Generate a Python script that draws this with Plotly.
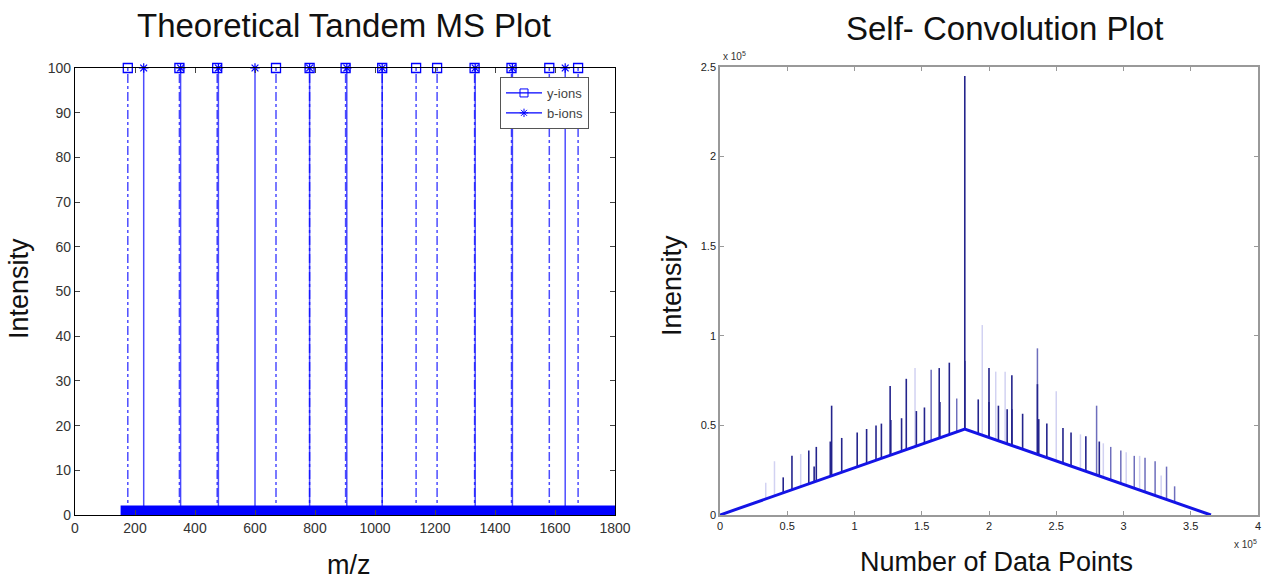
import plotly.graph_objects as go
import numpy as np

# ---------------- Left chart data ----------------
y_ions_mz = [176, 348, 474, 670, 782, 902, 1024, 1137, 1207, 1332, 1455, 1581, 1677]
b_ions_mz = [229, 352, 478, 600, 782, 906, 1024, 1334, 1458, 1634]
ion_intensity = 100
baseline_mz = [152, 1810]
baseline_int = [1, 1]
left_xticks = [0, 200, 400, 600, 800, 1000, 1200, 1400, 1600, 1800]
left_yticks = [0, 10, 20, 30, 40, 50, 60, 70, 80, 90, 100]

# ---------------- Right chart data (x in 1e5 points, y in 1e5) ----------------
tri_x = [0, 1.82, 3.65]
tri_y = [0, 0.48, 0]
dark_x = [0.47, 0.535, 0.66, 0.716, 0.70, 0.83, 0.82, 0.905, 1.02, 1.09, 1.16, 1.20, 1.265, 1.27,
          1.35, 1.385, 1.46, 1.52, 1.63, 1.635, 1.705, 1.82, 1.82, 1.92, 2.0, 2.0, 2.07, 2.135,
          2.17, 2.17, 2.25, 2.36, 2.37, 2.43, 2.55, 2.61, 2.72, 2.82]
dark_y = [0.21, 0.33, 0.36, 0.38, 0.27, 0.61, 0.41, 0.43, 0.46, 0.48, 0.50, 0.51, 0.72, 0.53,
          0.54, 0.76, 0.58, 0.60, 0.82, 0.63, 0.85, 0.86, 2.45, 0.645, 0.82, 0.63, 0.61, 0.59,
          0.78, 0.59, 0.565, 0.73, 0.535, 0.51, 0.485, 0.46, 0.44, 0.41]
medium_x = [1.57, 1.76, 2.36, 2.80, 2.905, 2.98, 3.08, 3.16, 3.235, 3.32, 3.38]
medium_y = [0.81, 0.65, 0.93, 0.61, 0.38, 0.36, 0.33, 0.32, 0.30, 0.27, 0.16]
light_x = [0.34, 0.405, 0.60, 1.45, 1.95, 2.05, 2.12, 2.5, 2.68, 2.85, 3.02, 3.12, 3.28]
light_y = [0.18, 0.30, 0.34, 0.82, 1.06, 0.80, 0.80, 0.69, 0.45, 0.40, 0.35, 0.33, 0.22]
right_xticks = [0, 0.5, 1, 1.5, 2, 2.5, 3, 3.5, 4]
right_yticks = [0, 0.5, 1, 1.5, 2, 2.5]


def stems(xs, tops, bases):
    sx, sy = [], []
    for x, t, b in zip(xs, tops, bases):
        sx += [x, x, None]
        sy += [b, t, None]
    return sx, sy


fig = go.Figure()
BLUE = "#0000ff"
STEM = "rgba(0,0,255,0.7)"

# Left: baseline bar
fig.add_trace(go.Scatter(x=baseline_mz, y=baseline_int, mode="lines",
                         line=dict(color=BLUE, width=10), showlegend=False,
                         xaxis="x", yaxis="y", hoverinfo="skip"))
# y-ion stems
sx, sy = stems(y_ions_mz, [ion_intensity] * len(y_ions_mz), [0] * len(y_ions_mz))
fig.add_trace(go.Scatter(x=sx, y=sy, mode="lines", line=dict(color=STEM, width=1.5, dash="dashdot"),
                         showlegend=False, xaxis="x", yaxis="y"))
# b-ion stems
sx, sy = stems(b_ions_mz, [ion_intensity] * len(b_ions_mz), [0] * len(b_ions_mz))
fig.add_trace(go.Scatter(x=sx, y=sy, mode="lines", line=dict(color=STEM, width=1.5),
                         showlegend=False, xaxis="x", yaxis="y"))
# markers
fig.add_trace(go.Scatter(x=y_ions_mz, y=[ion_intensity] * len(y_ions_mz), mode="markers",
                         marker=dict(symbol="square-open", size=9, color=BLUE, line=dict(width=1.3)),
                         showlegend=False, cliponaxis=False, xaxis="x", yaxis="y"))
fig.add_trace(go.Scatter(x=b_ions_mz, y=[ion_intensity] * len(b_ions_mz), mode="markers",
                         marker=dict(symbol="asterisk-open", size=8, color=BLUE, line=dict(width=1.2, color=BLUE)),
                         showlegend=False, cliponaxis=False, xaxis="x", yaxis="y"))
# legend entries
fig.add_trace(go.Scatter(x=[None], y=[None], mode="lines+markers", name="y-ions",
                         line=dict(color=BLUE, width=1.2),
                         marker=dict(symbol="square-open", size=8, color=BLUE),
                         xaxis="x", yaxis="y"))
fig.add_trace(go.Scatter(x=[None], y=[None], mode="lines+markers", name="b-ions",
                         line=dict(color=BLUE, width=1.2),
                         marker=dict(symbol="asterisk-open", size=7, color=BLUE, line=dict(width=1, color=BLUE)),
                         xaxis="x", yaxis="y"))

# Right chart
tri_base_l = np.interp(light_x, tri_x, tri_y)
sx, sy = stems(light_x, light_y, tri_base_l)
fig.add_trace(go.Scatter(x=sx, y=sy, mode="lines", line=dict(color="#d2d2f2", width=1.5),
                         showlegend=False, xaxis="x2", yaxis="y2"))
tri_base_m = np.interp(medium_x, tri_x, tri_y)
sx, sy = stems(medium_x, medium_y, tri_base_m)
fig.add_trace(go.Scatter(x=sx, y=sy, mode="lines", line=dict(color="#6e6ebc", width=1.5),
                         showlegend=False, xaxis="x2", yaxis="y2"))
tri_base_d = np.interp(dark_x, tri_x, tri_y)
sx, sy = stems(dark_x, dark_y, tri_base_d)
fig.add_trace(go.Scatter(x=sx, y=sy, mode="lines", line=dict(color="#24248c", width=1.6),
                         showlegend=False, xaxis="x2", yaxis="y2"))
fig.add_trace(go.Scatter(x=tri_x, y=tri_y, mode="lines", line=dict(color="#1414e6", width=3),
                         showlegend=False, xaxis="x2", yaxis="y2"))

W, H = 1264, 579


def px(x):
    return x / W


def py(y):
    return 1 - y / H


FONT = "Liberation Sans, Arial, sans-serif"
tickfont = dict(family=FONT, size=14, color="#333")
tickfont_r = dict(family=FONT, size=11, color="#222")

fig.update_layout(
    width=W, height=H,
    margin=dict(l=0, r=0, t=0, b=0, pad=0),
    plot_bgcolor="white", paper_bgcolor="white",
    font=dict(family=FONT),
    xaxis=dict(domain=[px(75), px(615)], range=[0, 1800], tickvals=left_xticks,
               ticks="inside", ticklen=5, showline=True, linecolor="black", linewidth=1.2,
               mirror="ticks", showgrid=False, zeroline=False, tickfont=tickfont, anchor="y",
               automargin=False),
    yaxis=dict(domain=[py(515), py(68)], range=[0, 100], tickvals=left_yticks,
               ticks="inside", ticklen=5, showline=True, linecolor="black", linewidth=1.2,
               mirror="ticks", showgrid=False, zeroline=False, tickfont=tickfont, anchor="x",
               automargin=False),
    xaxis2=dict(domain=[px(720), px(1258)], range=[0, 4], tickvals=right_xticks,
                ticks="inside", ticklen=4, showline=True, linecolor="#999", linewidth=1.5,
                tickcolor="#999", mirror="ticks", showgrid=False, zeroline=False,
                tickfont=tickfont_r, anchor="y2", automargin=False),
    yaxis2=dict(domain=[py(515), py(67)], range=[0, 2.5], tickvals=right_yticks,
                ticks="inside", ticklen=4, showline=True, linecolor="#999", linewidth=1.5,
                tickcolor="#999", mirror="ticks", showgrid=False, zeroline=False,
                tickfont=tickfont_r, anchor="x2", automargin=False),
    legend=dict(x=px(500), y=py(77), xanchor="left", yanchor="top",
                bgcolor="white", bordercolor="#555", borderwidth=1,
                font=dict(size=13, color="#444"), tracegroupgap=0, itemwidth=36),
)

ann_font_title = dict(family=FONT, size=33, color="#111")
ann_font_label = dict(family=FONT, size=27, color="#111")
fig.add_annotation(text="Theoretical Tandem MS Plot", x=px(344), y=py(26), xref="paper", yref="paper",
                   showarrow=False, font=ann_font_title, xanchor="center", yanchor="middle")
fig.add_annotation(text="Self- Convolution Plot", x=px(1004), y=py(28), xref="paper", yref="paper",
                   showarrow=False, font=ann_font_title, xanchor="center", yanchor="middle")
fig.add_annotation(text="Intensity", x=px(19), y=py(289), xref="paper", yref="paper", textangle=-90,
                   showarrow=False, font=ann_font_label, xanchor="center", yanchor="middle")
fig.add_annotation(text="m/z", x=px(349), y=py(565), xref="paper", yref="paper",
                   showarrow=False, font=ann_font_label, xanchor="center", yanchor="middle")
fig.add_annotation(text="Intensity", x=px(672), y=py(285), xref="paper", yref="paper", textangle=-90,
                   showarrow=False, font=ann_font_label, xanchor="center", yanchor="middle")
fig.add_annotation(text="Number of Data Points", x=px(996), y=py(562), xref="paper", yref="paper",
                   showarrow=False, font=ann_font_label, xanchor="center", yanchor="middle")
fig.add_annotation(text="x 10<sup>5</sup>", x=px(721), y=py(56), xref="paper", yref="paper",
                   showarrow=False, font=dict(size=10, color="#333"), xanchor="left", yanchor="middle")
fig.add_annotation(text="x 10<sup>5</sup>", x=px(1232), y=py(544), xref="paper", yref="paper",
                   showarrow=False, font=dict(size=10, color="#333"), xanchor="left", yanchor="middle")

fig.write_html("out.html")
